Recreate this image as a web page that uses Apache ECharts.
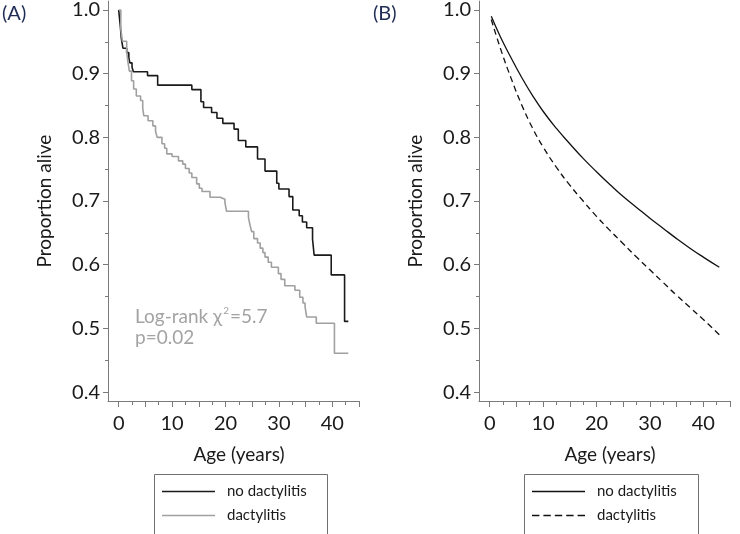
<!DOCTYPE html>
<html>
<head>
<meta charset="utf-8">
<script src="https://cdn.jsdelivr.net/npm/echarts@6/dist/echarts.min.js"></script>
<style>
html,body{margin:0;padding:0;background:#fff;}
#chart{width:740px;height:534px;}
</style>
</head>
<body>
<div id="chart"></div>
<script>
// ---------- data ----------
const ageTickLabels = [0, 10, 20, 30, 40];
const ageMajorTicks = [0, 5, 10, 15, 20, 25, 30, 35, 40, 45];
const ageMinorTicks = [2.5, 7.5, 12.5, 17.5, 22.5, 27.5, 32.5, 37.5, 42.5];
const propTickLabels = [0.4, 0.5, 0.6, 0.7, 0.8, 0.9, 1.0];
const propMinorTicks = [0.45, 0.55, 0.65, 0.75, 0.85, 0.95];

// Panel A: Kaplan-Meier step estimates (time of event, survival after event)
const kmNoDactTime = [0, 0.3, 0.5, 0.8, 1.5, 1.9, 2.1, 2.5, 2.75, 5.4, 7.3, 13.7, 15.4, 15.9, 17.4, 18.4, 19.5, 21.6, 22.4, 23.8, 26.0, 27.4, 29.6, 30.0, 31.9, 32.6, 33.8, 34.4, 35.2, 36.3, 36.6, 39.8, 42.3, 43.0];
const kmNoDactSurv = [1.0, 0.975, 0.955, 0.94, 0.933, 0.925, 0.917, 0.91, 0.903, 0.897, 0.882, 0.875, 0.856, 0.847, 0.839, 0.830, 0.822, 0.813, 0.795, 0.785, 0.766, 0.747, 0.728, 0.719, 0.707, 0.686, 0.677, 0.667, 0.658, 0.64, 0.615, 0.584, 0.511, 0.511];

const kmDactTime = [0, 0.4, 0.7, 1.5, 1.7, 2.0, 2.4, 2.8, 3.3, 4.1, 4.5, 4.7, 5.5, 6.4, 6.9, 7.2, 8.1, 8.6, 9.0, 10.0, 11.2, 12.0, 12.5, 13.2, 13.7, 14.6, 15.1, 15.6, 17.1, 19.0, 19.9, 20.2, 24.3, 24.6, 24.9, 25.3, 26.0, 26.5, 27.0, 27.4, 28.0, 28.6, 29.9, 30.4, 31.1, 33.0, 33.9, 34.5, 34.9, 35.2, 37.0, 40.4, 43.0];
const kmDactSurv = [1.0, 0.97, 0.951, 0.935, 0.92, 0.904, 0.889, 0.876, 0.865, 0.858, 0.846, 0.834, 0.826, 0.818, 0.810, 0.800, 0.790, 0.783, 0.774, 0.770, 0.763, 0.758, 0.751, 0.744, 0.737, 0.727, 0.720, 0.715, 0.706, 0.703, 0.697, 0.684, 0.674, 0.662, 0.652, 0.641, 0.634, 0.626, 0.619, 0.612, 0.604, 0.596, 0.586, 0.577, 0.567, 0.560, 0.549, 0.540, 0.534, 0.518, 0.508, 0.461, 0.461];

// Panel B: modelled survival curves
const modelAge     = [0.3, 2, 4, 6, 8, 10, 12.5, 15, 17.5, 20, 22.5, 25, 27.5, 30, 32.5, 35, 37.5, 40, 43];
const modelNoDact  = [0.99, 0.958, 0.925, 0.894, 0.866, 0.841, 0.814, 0.790, 0.767, 0.746, 0.726, 0.707, 0.690, 0.673, 0.657, 0.641, 0.626, 0.612, 0.596];
const modelDact    = [0.985, 0.940, 0.893, 0.851, 0.815, 0.785, 0.753, 0.725, 0.700, 0.676, 0.654, 0.633, 0.612, 0.592, 0.572, 0.552, 0.533, 0.514, 0.490];

const seriesNames = ['no dactylitis', 'dactylitis'];

// ---------- chart ----------
const FONT = 'Lato';
const zip = (a, b) => a.map((v, i) => [v, b[i]]);
const chart = echarts.init(document.getElementById('chart'), null, {renderer: 'canvas'});

const axisColor = '#7a7a7a';
const grids = [
  {left: 108, top: 0, width: 251, height: 401},
  {left: 479, top: 0, width: 251, height: 401}
];

function xAxes(gi) {
  return [{
    gridIndex: gi, type: 'value', min: -2, max: 45, position: 'bottom',
    name: 'Age (years)', nameLocation: 'middle', nameGap: 44,
    nameTextStyle: {fontFamily: FONT, fontSize: 19, color: '#1a1a1a', padding: [0, 0, 0, 11]},
    axisLine: {show: true, onZero: false, lineStyle: {color: axisColor, width: 1}},
    axisTick: {show: true, customValues: ageMajorTicks, length: 6, lineStyle: {color: axisColor}},
    axisLabel: {show: true, customValues: ageTickLabels, margin: 13, fontFamily: FONT, fontSize: 20, color: '#1a1a1a'},
    splitLine: {show: false}
  }, {
    gridIndex: gi, type: 'value', min: -2, max: 45, position: 'bottom',
    axisLine: {show: false, onZero: false},
    axisTick: {show: true, customValues: ageMinorTicks, length: 4, lineStyle: {color: axisColor}},
    axisLabel: {show: false},
    splitLine: {show: false}
  }];
}
function yAxes(gi) {
  return [{
    gridIndex: gi, type: 'value', min: 0.386, max: 1.014, position: 'left',
    name: 'Proportion alive', nameLocation: 'middle', nameGap: 54,
    nameTextStyle: {fontFamily: FONT, fontSize: 19, color: '#1a1a1a'},
    axisLine: {show: true, onZero: false, lineStyle: {color: axisColor, width: 1}},
    axisTick: {show: true, customValues: propTickLabels, length: 5, lineStyle: {color: axisColor}},
    axisLabel: {show: true, customValues: propTickLabels, margin: 8, fontFamily: FONT, fontSize: 20, color: '#1a1a1a',
      formatter: v => v.toFixed(1)},
    splitLine: {show: false}
  }, {
    gridIndex: gi, type: 'value', min: 0.386, max: 1.014, position: 'left',
    axisLine: {show: false, onZero: false},
    axisTick: {show: true, customValues: propMinorTicks, length: 3, lineStyle: {color: axisColor}},
    axisLabel: {show: false},
    splitLine: {show: false}
  }];
}

const SOLID_ICON = 'path://M0,0H53V1.4H0Z';
const DASH_ICON = 'path://M0,0h7.4v1.3h-7.4zM11.4,0h7.4v1.3h-7.4zM22.8,0h7.4v1.3h-7.4zM34.2,0h7.4v1.3h-7.4zM45.6,0h7.4v1.3h-7.4z';

// one legend entry per component, placed in its framed box
function legendItem(left, top, name, icon, color) {
  return {
    show: true, left: left, top: top,
    data: [{name: name, icon: icon, itemStyle: {color: color, borderWidth: 0}}],
    formatter: function (n) { return n.slice(2); },
    itemWidth: 53, itemHeight: 14,
    padding: 0,
    textStyle: {fontFamily: FONT, fontSize: 15, color: '#1a1a1a', padding: [0, 0, 0, 7]},
    selectedMode: false
  };
}

const option = {
  animation: false,
  backgroundColor: '#ffffff',
  grid: grids,
  xAxis: [...xAxes(0), ...xAxes(1)],
  yAxis: [...yAxes(0), ...yAxes(1)],
  legend: [
    legendItem(162, 484, 'A:' + seriesNames[0], SOLID_ICON, '#1a1a1a'),
    legendItem(162, 508, 'A:' + seriesNames[1], SOLID_ICON, '#a0a0a0'),
    legendItem(532, 484, 'B:' + seriesNames[0], SOLID_ICON, '#111111'),
    legendItem(532, 508, 'B:' + seriesNames[1], DASH_ICON, '#111111')
  ],
  series: [
    {name: 'A:' + seriesNames[0], type: 'line', step: 'end', xAxisIndex: 0, yAxisIndex: 0,
     showSymbol: false, symbol: 'none', data: zip(kmNoDactTime, kmNoDactSurv),
     lineStyle: {color: '#1a1a1a', width: 1.6}, itemStyle: {color: '#1a1a1a'}},
    {name: 'A:' + seriesNames[1], type: 'line', step: 'end', xAxisIndex: 0, yAxisIndex: 0,
     showSymbol: false, symbol: 'none', data: zip(kmDactTime, kmDactSurv),
     lineStyle: {color: '#a0a0a0', width: 1.6}, itemStyle: {color: '#a0a0a0'}},
    {name: 'B:' + seriesNames[0], type: 'line', smooth: true, xAxisIndex: 2, yAxisIndex: 2,
     showSymbol: false, symbol: 'none', data: zip(modelAge, modelNoDact),
     lineStyle: {color: '#111111', width: 1.3}, itemStyle: {color: '#111111'}},
    {name: 'B:' + seriesNames[1], type: 'line', smooth: true, xAxisIndex: 2, yAxisIndex: 2,
     showSymbol: false, symbol: 'none', data: zip(modelAge, modelDact),
     lineStyle: {color: '#111111', width: 1.3, type: [6, 4]}, itemStyle: {color: '#111111'}}
  ],
  graphic: [
    {type: 'rect', left: 152, top: 472, shape: {width: 173, height: 60},
     style: {fill: 'none', stroke: '#707070', lineWidth: 1}, silent: true},
    {type: 'rect', left: 522, top: 472, shape: {width: 174, height: 60},
     style: {fill: 'none', stroke: '#707070', lineWidth: 1}, silent: true},
    {type: 'text', left: 2, top: 4, style: {text: '(A)', fontFamily: FONT, fontSize: 20, fill: '#1f2d55'}},
    {type: 'text', left: 373, top: 4, style: {text: '(B)', fontFamily: FONT, fontSize: 20, fill: '#1f2d55'}},
    {type: 'text', left: 135, top: 306, style: {
      text: '{a|Log-rank χ}{s|2}{a|=5.7}\n{a|p=0.02}',
      fontFamily: FONT,
      rich: {
        a: {fontFamily: FONT, fontSize: 19, fill: '#a3a3a3', color: '#a3a3a3', lineHeight: 21},
        s: {fontFamily: FONT, fontSize: 10, fill: '#a3a3a3', color: '#a3a3a3', lineHeight: 21, verticalAlign: 'top', padding: [0, 1, 8, 1]}
      }
    }}
  ]
};
chart.setOption(option);
</script>
</body>
</html>
